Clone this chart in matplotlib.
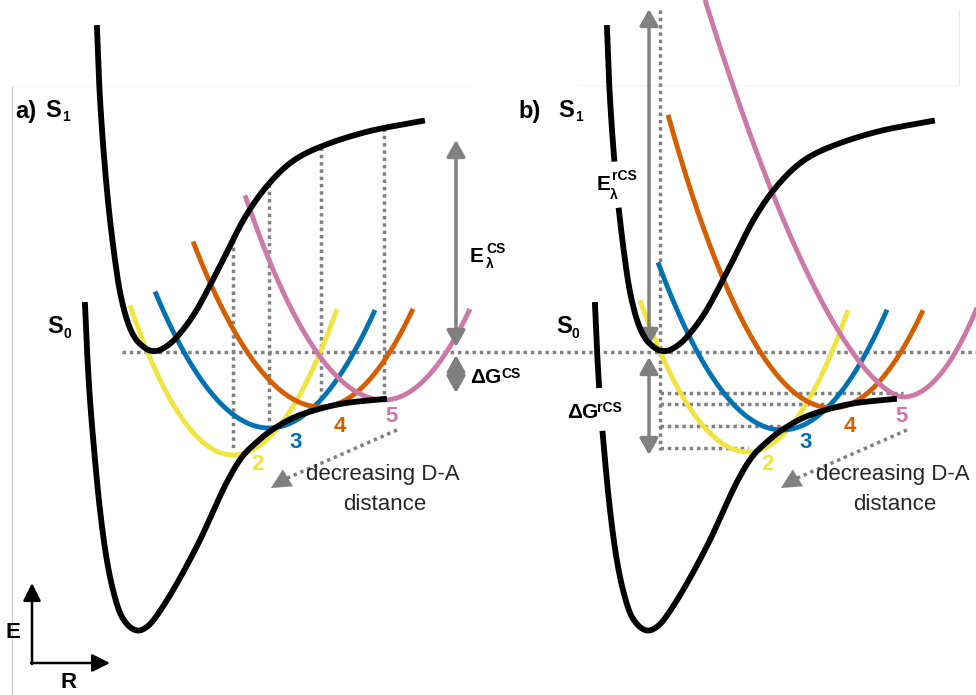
import numpy as np
import matplotlib.pyplot as plt

plt.rcParams['font.family'] = ['Liberation Sans', 'DejaVu Sans']

# ---------------- data (pixel space of the original slide) ----------------
# excited state S1 (panel a); panel b is the same curve shifted right
S1_X = [97, 99, 102, 106, 110, 115, 120, 127, 135, 145, 153, 162, 176, 196, 220, 244, 267, 293, 325, 370, 422]
S1_Y = [28, 80, 130, 180, 220, 260, 292, 320, 338, 348, 351, 349, 338, 311, 266, 219, 186, 161, 145, 131, 121]

# ground state S0
S0_X = [85, 87, 90, 95, 100, 106, 113, 122, 135, 148, 162, 180, 200, 215, 228, 242, 258, 275, 300, 340, 384]
S0_Y = [305, 350, 400, 460, 510, 555, 590, 617, 630, 626, 608, 578, 540, 507, 480, 457, 441, 428, 415, 404, 399]

# charge separated wells, labels 2..5
WELL_LABELS = ['2', '3', '4', '5']
WELL_COLORS = ['#F0E442', '#0072B2', '#D55E00', '#CC79A7']

# panel a wells
A_XV = [233, 269, 321, 384]
A_YV = [455, 428, 407, 400]
A_KL = [0.0141, 0.0105, 0.0101, 0.0106]
A_KR = [0.0135, 0.0105, 0.0116, 0.0123]
A_PL = [2, 2, 2, 2]
A_XL = [130, 155, 193, 245]
A_XR = [337, 375, 413, 470]

# panel b wells
B_XV = [748, 782, 832, 903]
B_YV = [452, 430, 408, 397]
B_KL = [0.0130, 0.0109, 0.0109, 0.084]
B_KR = [0.0142, 0.0109, 0.0118, 0.0163]
B_PL = [2, 2, 2, 1.6]
B_XL = [640, 658, 668, 705]
B_XR = [848, 887, 923, 990]

SHIFT_B = 510      # panel b offset
E_LEVEL = 352      # S1 minimum level (dotted line)

GREY = '#808080'
DOT = (0, (1, 1.1))
LW_BLACK = 4.2
LW_WELL = 3.5
LW_DOT = 2.5


def smooth(xs, ys, n=25):
    # catmull-rom through the key points
    p = np.column_stack([xs, ys]).astype(float)
    p = np.vstack([2 * p[0] - p[1], p, 2 * p[-1] - p[-2]])
    t = np.linspace(0, 1, n, endpoint=False)[:, None]
    out = []
    for i in range(1, len(p) - 2):
        p0, p1, p2, p3 = p[i - 1], p[i], p[i + 1], p[i + 2]
        out.append(0.5 * (2 * p1 + (-p0 + p2) * t + (2 * p0 - 5 * p1 + 4 * p2 - p3) * t ** 2
                          + (-p0 + 3 * p1 - 3 * p2 + p3) * t ** 3))
    out.append(p[-2][None])
    c = np.vstack(out)
    return c[:, 0], c[:, 1]


def well(xv, yv, kl, kr, pl, x0, x1):
    x = np.linspace(x0, x1, 300)
    dx = x - xv
    y = np.where(dx < 0, yv - kl * np.abs(dx) ** pl, yv - kr * dx ** 2)
    return x, y


def darrow(ax, x, y0, y1):
    ax.annotate('', xy=(x, y1), xytext=(x, y0),
                arrowprops=dict(arrowstyle='<|-|>,head_length=0.5,head_width=0.28',
                                color=GREY, lw=2.5, shrinkA=0, shrinkB=0, mutation_scale=20))


fig = plt.figure(figsize=(9.76, 6.95), dpi=100)
ax = fig.add_axes([0, 0, 1, 1])
ax.set_xlim(0, 976)
ax.set_ylim(695, 0)
ax.axis('off')

# faint slide frame remnants
ax.plot([12, 12], [87, 695], color='#c4c4c4', lw=0.8)
ax.plot([12, 470], [86, 86], color='#f7f7f7', lw=0.8)
ax.plot([580, 959], [85, 85], color='#f5f5f5', lw=0.8)
ax.plot([959, 959], [10, 85], color='#e8e8e8', lw=0.8)

s1x, s1y = smooth(S1_X, S1_Y)
s0x, s0y = smooth(S0_X, S0_Y)

# S1 level dotted line across both panels
ax.plot([122, 976], [E_LEVEL, E_LEVEL], color=GREY, lw=LW_DOT, ls=DOT)

# ---- panel a ----
imin = np.argmax(s1y)
right_x, right_y = s1x[imin:], s1y[imin:]
for i in range(4):
    top = np.interp(A_XV[i], right_x, right_y)
    ax.plot([A_XV[i], A_XV[i]], [top, A_YV[i] - 6], color=GREY, lw=LW_DOT, ls=DOT)
    x, y = well(A_XV[i], A_YV[i], A_KL[i], A_KR[i], A_PL[i], A_XL[i], A_XR[i])
    ax.plot(x, y, color=WELL_COLORS[i], lw=LW_WELL, solid_capstyle='butt', zorder=3)

ax.plot(s1x, s1y, color='black', lw=LW_BLACK, zorder=4)
ax.plot(s0x, s0y, color='black', lw=LW_BLACK, zorder=4)

darrow(ax, 456, 140, 347)
darrow(ax, 456, 355, 393)

# ---- panel b ----
bx1 = s1x + SHIFT_B
by1 = np.where((s1y > 160) & (s1y < 210) & (s1x < 130), np.nan, s1y)
bx0 = s0x + SHIFT_B
by0 = np.where((s0y > 387) & (s0y < 433) & (s0x < 100), np.nan, s0y)

ax.plot([660, 660], [10, B_YV[0] - 2], color=GREY, lw=LW_DOT, ls=DOT)
for i in range(4):
    ax.plot([660, B_XV[i]], [B_YV[i] - 4, B_YV[i] - 4], color=GREY, lw=LW_DOT, ls=DOT)
for i in range(4):
    x, y = well(B_XV[i], B_YV[i], B_KL[i], B_KR[i], B_PL[i], B_XL[i], B_XR[i])
    ax.plot(x, y, color=WELL_COLORS[i], lw=LW_WELL, solid_capstyle='butt', zorder=3)

ax.plot(bx1, by1, color='black', lw=LW_BLACK, zorder=4)
ax.plot(bx0, by0, color='black', lw=LW_BLACK, zorder=4)

darrow(ax, 649, 9, 346)
darrow(ax, 649, 357, 455)

# ---- labels ----
num_a = [(257, 465), (296, 443), (340, 426), (392, 417)]
for off in (0, SHIFT_B):
    for i in range(4):
        ax.text(num_a[i][0] + off, num_a[i][1], WELL_LABELS[i], color=WELL_COLORS[i],
                fontsize=16, fontweight='bold', ha='center', va='center', zorder=5)
    # decreasing D-A distance arrow
    ax.plot([397 + off, 283 + off], [430, 480], color=GREY, lw=LW_DOT, ls=DOT)
    ax.annotate('', xy=(271 + off, 488), xytext=(286 + off, 479),
                arrowprops=dict(arrowstyle='-|>,head_length=0.7,head_width=0.35',
                                color=GREY, lw=0.1, shrinkA=0, shrinkB=0, mutation_scale=20))
    ax.text(383 + off, 480, 'decreasing D-A', fontsize=16, color='#262626',
            ha='center', va='baseline')
    ax.text(385 + off, 510, 'distance', fontsize=16, color='#262626',
            ha='center', va='baseline')

bold = dict(fontweight='bold', va='baseline', color='black')
ax.text(15, 118, 'a)', fontsize=17, **bold)
ax.text(45, 117, 'S', fontsize=17, **bold)
ax.text(62, 121, '1', fontsize=10, **bold)
ax.text(518, 118, 'b)', fontsize=17, **bold)
ax.text(558, 117, 'S', fontsize=17, **bold)
ax.text(575, 121, '1', fontsize=10, **bold)
ax.text(47, 333, 'S', fontsize=17, **bold)
ax.text(63, 338, '0', fontsize=10, **bold)
ax.text(556, 333, 'S', fontsize=17, **bold)
ax.text(572, 338, '0', fontsize=10, **bold)

ax.text(470, 262, 'E', fontsize=15, **bold)
ax.text(486, 253, 'CS', fontsize=10, **bold)
ax.text(486, 268, 'λ', fontsize=10, **bold)
ax.text(470, 383, 'ΔG', fontsize=15, **bold)
ax.text(501, 378, 'CS', fontsize=10, **bold)

ax.text(597, 190, 'E', fontsize=15, **bold)
ax.text(612, 180, 'rCS', fontsize=10, **bold)
ax.text(610, 199, 'λ', fontsize=10, **bold)
ax.text(567, 418, 'ΔG', fontsize=15, **bold)
ax.text(597, 412, 'rCS', fontsize=10, **bold)

# E / R axes
ax.annotate('', xy=(32, 583), xytext=(32, 664),
            arrowprops=dict(arrowstyle='-|>,head_length=0.6,head_width=0.3', color='black',
                            lw=1.8, shrinkA=0, shrinkB=0, mutation_scale=18))
ax.annotate('', xy=(110, 663), xytext=(31, 663),
            arrowprops=dict(arrowstyle='-|>,head_length=0.6,head_width=0.3', color='black',
                            lw=1.8, shrinkA=0, shrinkB=0, mutation_scale=18))
ax.text(13, 632, 'E', fontsize=16, ha='center', va='center', fontweight='bold')
ax.text(69, 683, 'R', fontsize=16, ha='center', va='center', fontweight='bold')

fig.savefig('out.png', dpi=100)
